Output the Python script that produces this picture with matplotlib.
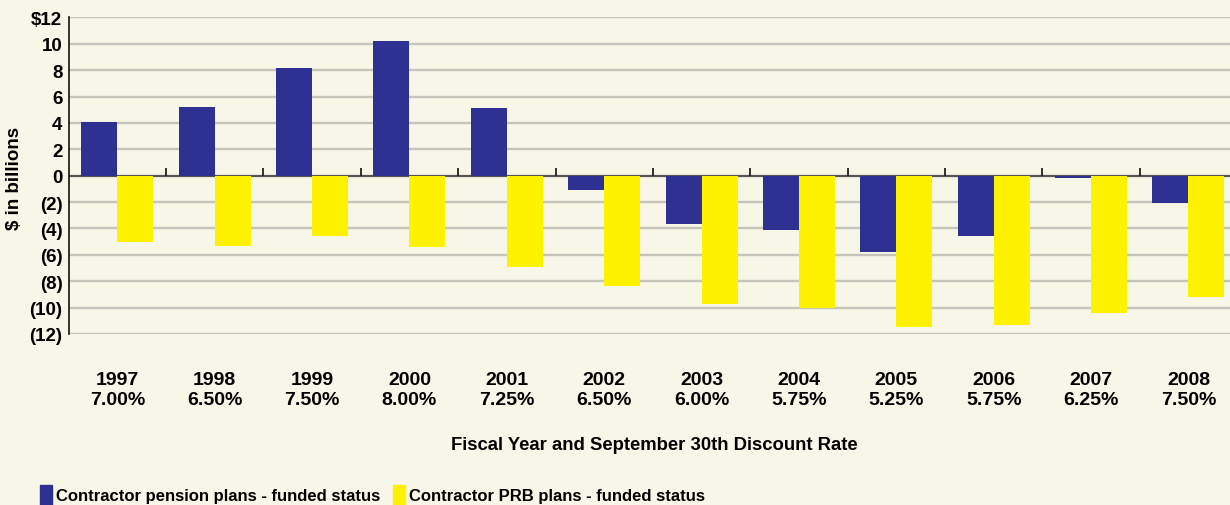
import numpy as np
import matplotlib
matplotlib.use("Agg")
import matplotlib.pyplot as plt
from matplotlib.patches import Rectangle

# chart data
years = ["1997", "1998", "1999", "2000", "2001", "2002",
         "2003", "2004", "2005", "2006", "2007", "2008"]
rates = ["7.00%", "6.50%", "7.50%", "8.00%", "7.25%", "6.50%",
         "6.00%", "5.75%", "5.25%", "5.75%", "6.25%", "7.50%"]
pension = [4.1, 5.2, 8.2, 10.2, 5.1, -1.1, -3.65, -4.15, -5.8, -4.55, -0.2, -2.05]
prb = [-5.05, -5.35, -4.55, -5.4, -6.9, -8.35, -9.75, -10.0, -11.5, -11.35, -10.4, -9.2]
y_ticks = [12, 10, 8, 6, 4, 2, 0, -2, -4, -6, -8, -10, -12]
y_labels = ["$12", "10", "8", "6", "4", "2", "0",
            "(2)", "(4)", "(6)", "(8)", "(10)", "(12)"]
legend_labels = ["Contractor pension plans - funded status",
                 "Contractor PRB plans - funded status"]

BG = "#f8f6e6"
BLUE = "#2e3192"
YELLOW = "#fff200"
GRID = "#c6c4bb"

plt.rcParams["font.family"] = ["Liberation Sans", "DejaVu Sans"]
plt.rcParams["font.weight"] = "bold"

W, H = 1230, 506
fig = plt.figure(figsize=(W / 100, H / 100), dpi=100, facecolor=BG)
ax = fig.add_axes([0.0558, 0.338, 0.95, 0.6255], facecolor=BG)

x = np.arange(len(years))
w = 0.37
ax.bar(x - w / 2, pension, w, color=BLUE, zorder=3)
ax.bar(x + w / 2, prb, w, color=YELLOW, zorder=3)

ax.set_xlim(-0.5, len(years) - 0.5)
ax.set_ylim(-12, 12)

# gridlines, zero line and the small category ticks on it
for v in y_ticks:
    if v != 0:
        ax.axhline(v, color=GRID, lw=1.7, zorder=1)
ax.axhline(0, color="#555555", lw=1.6, zorder=2)
ax.vlines(x[1:] - 0.5, 0, 0.55, color="#222222", lw=1.3, zorder=2)

for s in ["top", "right", "bottom"]:
    ax.spines[s].set_visible(False)
ax.spines["left"].set_color("#111111")
ax.spines["left"].set_linewidth(1.2)

ax.set_yticks(y_ticks)
ax.set_yticklabels(y_labels, fontsize=13.5, fontweight="bold")
ax.tick_params(axis="y", length=0, pad=4.5)

ax.set_xticks(x)
ax.set_xticklabels([f"{a}\n{b}" for a, b in zip(years, rates)],
                   fontsize=14, fontweight="bold", linespacing=1.2)
ax.tick_params(axis="x", length=0, pad=27)

fig.text(0.0115, 0.648, "$ in billions", rotation=90,
         fontsize=13.5, fontweight="bold", ha="center", va="center")
fig.text(0.532, 0.12, "Fiscal Year and September 30th Discount Rate",
         fontsize=13.3, fontweight="bold", ha="center", va="center")

# legend drawn by hand: tall swatches running off the bottom edge
renderer = fig.canvas.get_renderer()
px = 40
for color, label in zip([BLUE, YELLOW], legend_labels):
    fig.add_artist(Rectangle((px / W, -0.02), 12 / W, (H - 486) / H + 0.02,
                             transform=fig.transFigure, color=color,
                             clip_on=False))
    t = fig.text((px + 16) / W, 1 - 497 / H, label, fontsize=12,
                 fontweight="bold", ha="left", va="center")
    bb = t.get_window_extent(renderer)
    px = bb.x1 + 13

fig.savefig("out.png", dpi=100, facecolor=BG)
